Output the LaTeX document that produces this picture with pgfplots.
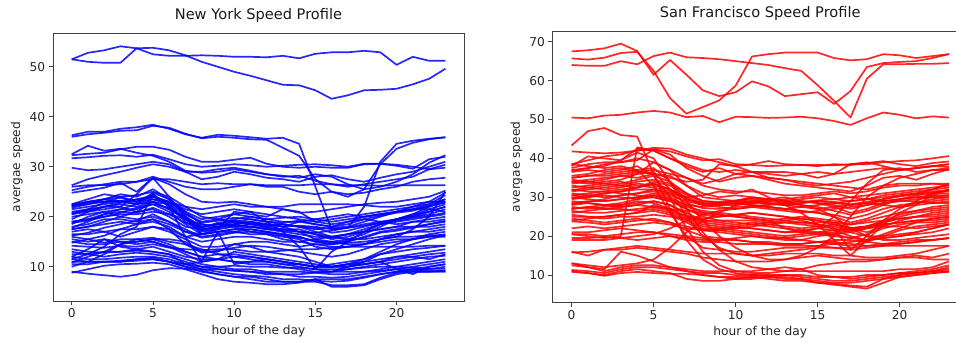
\documentclass[border=0pt]{standalone}
\usepackage{pgfplots}
\usepackage{pgfplotstable}
\pgfplotsset{compat=1.18}
\usepackage{fontspec}
\setmainfont{DejaVu Sans}

% New York: one row per road segment, 24 hourly values (hour 0..23)
\pgfplotstableread[header=false]{
51.5 52.8 53.3 54.1 53.7 52.5 52.2 52.2 52.3 52.2 52.0 52.0 51.9 52.2 51.7 52.6 52.9 52.9 53.2 52.9 50.4 52.0 51.2 51.2
51.5 51.0 50.8 50.8 53.7 53.8 53.3 52.3 51.0 50.0 49.0 48.2 47.3 46.4 46.3 45.3 43.6 44.3 45.3 45.4 45.6 46.5 47.6 49.6
36.3 37.0 37.0 37.6 37.9 38.4 37.6 36.5 35.8 36.4 36.2 35.9 35.6 35.8 34.6 26.0 17.5 17.8 22.0 31.0 34.6 35.2 35.6 35.9
36.0 36.5 36.8 37.2 37.3 38.2 37.8 36.6 35.7 36.0 35.8 35.5 35.4 33.8 32.2 27.5 25.0 24.0 25.5 30.5 33.6 34.8 35.5 35.9
32.5 34.2 33.2 33.6 32.8 32.2 31.0 29.2 28.8 29.0 29.5 29.0 28.5 28.2 27.8 28.5 28.0 26.5 25.5 26.0 27.0 28.5 30.8 32.3
32.3 32.6 32.8 33.5 34.0 34.0 33.4 32.0 31.0 31.0 31.4 31.8 30.6 30.0 29.8 30.0 29.8 29.8 30.5 30.6 30.4 30.0 29.5 29.8
31.7 31.9 32.2 32.3 32.0 32.4 31.5 30.5 30.0 30.2 30.5 30.3 30.0 30.2 30.4 30.5 30.3 30.0 30.6 30.6 30.2 29.6 31.5 32.0
29.8 29.3 29.5 30.0 30.5 31.0 30.5 29.0 27.5 28.0 29.0 28.5 27.8 27.5 27.0 28.0 28.3 27.5 27.0 27.8 28.5 29.0 30.0 31.0
26.3 27.5 28.3 29.0 29.8 30.5 30.0 29.0 29.0 29.5 29.8 29.2 28.5 28.0 28.2 27.2 26.5 26.0 26.5 27.0 27.5 28.0 29.5 30.4
26.0 26.3 26.3 26.5 27.0 27.5 27.5 27.0 26.5 26.7 26.5 26.5 26.3 26.3 26.3 26.5 26.5 26.3 26.3 26.2 26.3 26.3 26.3 26.3
25.3 26.0 26.5 27.0 27.0 28.0 27.0 26.0 25.5 25.5 26.0 26.5 26.0 26.0 25.0 24.5 25.0 24.5 24.8 25.5 26.0 27.0 27.5 27.8
24.8 25.3 25.8 26.8 25.0 27.8 26.5 24.5 23.0 22.8 23.0 22.5 22.0 21.5 20.8 21.0 21.5 22.0 22.5 22.8 23.0 23.5 24.0 25.2
22.5 23.0 23.5 24.0 24.3 25.0 24.0 22.0 20.0 19.5 19.0 19.5 19.0 18.5 18.0 17.5 17.8 18.0 19.0 20.0 21.0 22.0 23.0 24.8
22.2 22.5 23.0 23.8 23.0 24.5 22.0 19.5 18.0 18.5 19.0 18.5 18.0 17.5 17.0 15.5 16.0 16.5 17.5 18.5 19.5 20.5 22.0 23.5
22.0 23.0 23.5 24.5 24.0 25.5 23.5 20.5 19.0 19.5 20.5 20.0 19.5 19.8 20.0 19.5 19.0 19.5 20.0 20.5 21.0 21.5 22.5 24.3
21.5 22.0 22.5 23.0 23.0 24.0 23.0 21.0 18.5 18.0 18.5 19.0 18.5 18.0 18.2 18.0 17.5 17.8 18.5 19.0 19.5 20.0 20.5 21.5
21.0 21.5 22.8 23.2 22.5 23.5 22.5 19.0 17.0 17.5 18.0 18.5 18.0 18.5 18.0 17.0 16.0 15.5 16.5 18.0 19.5 20.0 21.0 22.0
20.5 21.5 22.0 22.5 22.0 23.0 21.5 19.5 17.5 18.0 19.0 18.5 18.5 18.0 17.0 16.5 15.5 16.0 17.0 18.5 19.0 19.5 20.0 20.5
20.0 20.5 21.0 21.5 21.5 22.5 21.0 18.5 16.5 17.0 17.5 18.0 17.5 17.0 16.5 16.0 15.8 16.5 17.0 17.5 18.0 19.0 19.5 20.0
19.5 21.0 22.0 22.0 21.0 21.5 20.0 18.0 17.5 18.0 18.5 19.0 18.5 18.0 19.0 18.5 18.0 19.0 19.5 19.0 18.5 19.0 19.0 19.5
19.0 19.5 20.0 20.5 20.5 21.0 20.5 19.5 18.5 18.0 18.5 18.0 17.5 17.5 17.5 16.5 16.0 16.5 17.0 17.5 18.0 18.0 18.5 19.0
18.5 20.0 21.0 20.0 19.5 20.0 19.0 17.5 16.0 16.5 17.0 17.5 17.0 16.5 16.0 15.0 14.5 15.0 16.0 17.0 17.5 18.0 18.0 18.5
18.0 18.5 19.5 19.5 19.0 19.5 18.5 17.0 16.5 17.0 17.0 16.5 16.5 16.0 15.5 14.0 13.5 14.0 14.5 15.5 16.5 17.0 17.5 18.0
17.5 18.0 18.5 19.0 18.5 19.0 18.0 16.0 15.0 15.5 16.0 16.0 15.5 15.0 15.0 15.5 15.0 15.5 15.5 16.0 16.5 17.0 17.0 17.5
17.0 17.5 17.0 17.5 17.5 18.0 17.0 15.5 14.0 14.0 14.5 15.0 15.0 14.5 14.0 14.5 14.5 14.8 15.0 15.5 16.0 16.0 16.3 16.3
16.5 16.5 17.0 16.0 17.0 18.0 17.5 16.0 16.5 17.0 17.5 17.5 17.0 16.5 16.0 15.0 15.0 14.5 14.5 15.0 15.5 15.5 16.0 16.0
16.0 15.5 14.8 15.5 15.5 15.0 14.0 12.5 11.0 11.5 12.0 12.0 11.5 11.0 10.5 10.0 10.5 11.0 11.5 12.5 13.0 13.5 13.8 14.2
15.5 15.0 15.5 15.0 14.5 15.0 14.0 13.0 12.0 12.5 12.5 12.0 11.5 11.0 10.5 10.0 10.0 10.0 10.5 11.0 11.5 12.0 12.5 12.8
15.0 14.5 14.5 15.0 15.0 15.5 14.5 13.0 12.0 11.5 11.0 10.5 10.5 10.0 9.5 9.0 9.0 9.5 10.0 10.5 11.0 11.5 12.0 12.2
14.2 14.0 13.8 14.2 14.0 14.5 13.8 13.5 13.3 13.5 13.5 13.0 13.0 13.2 13.5 13.5 13.8 14.0 14.0 14.0 14.0 14.0 14.2 14.2
13.5 13.0 12.8 13.0 13.2 13.0 12.5 11.5 10.5 10.0 9.5 9.5 9.0 9.0 9.0 8.8 8.5 8.5 9.0 9.5 10.0 10.5 11.0 11.5
12.5 12.5 12.0 12.5 12.8 12.5 12.0 11.0 10.0 9.5 9.2 9.0 8.5 8.5 8.0 8.0 7.8 8.0 8.5 9.0 9.5 10.0 10.5 11.0
12.0 11.5 11.5 11.8 12.0 12.0 11.5 10.5 9.5 9.0 8.5 8.2 8.0 7.5 7.5 7.2 7.0 7.2 7.8 8.5 9.0 9.5 10.0 10.5
11.5 11.0 11.0 11.2 11.5 11.8 11.0 10.0 9.0 8.5 8.0 7.5 7.0 7.0 7.0 7.5 7.5 7.5 8.0 8.5 9.0 9.3 9.5 10.0
11.0 11.0 11.0 11.0 11.2 11.5 11.0 10.5 10.0 10.0 10.2 10.0 10.0 9.8 9.8 9.5 9.5 9.5 9.8 10.0 10.0 9.8 9.6 9.6
10.5 10.5 11.0 11.0 11.5 11.5 11.0 10.0 9.5 9.5 9.2 9.0 8.8 8.5 8.5 8.8 9.0 9.0 9.0 9.2 9.5 9.5 9.2 9.2
9.0 8.6 8.3 8.0 8.4 9.3 9.7 9.6 9.2 8.5 8.0 8.0 7.5 7.0 7.0 7.0 6.3 6.3 6.5 7.8 8.8 9.0 9.0 9.0
8.8 9.5 10.2 10.5 10.6 10.8 10.5 9.5 8.5 7.5 7.0 6.8 6.5 6.5 6.8 7.5 6.0 6.0 6.3 7.5 8.5 9.0 9.0 9.2
11.5 12.5 14.0 16.5 18.0 24.5 22.0 16.0 11.0 11.5 13.0 12.5 12.0 11.5 11.0 10.5 10.0 10.5 11.0 11.5 12.0 12.5 13.0 13.5
20.5 21.0 21.5 22.0 24.5 27.8 24.0 20.0 16.5 17.5 21.0 20.5 20.0 21.5 21.0 19.0 18.5 19.0 20.0 20.5 21.0 21.5 22.0 23.0
12.0 13.5 15.5 14.0 13.5 13.0 12.5 10.5 11.0 17.0 10.5 11.0 11.5 11.0 10.5 10.0 10.0 10.5 10.5 11.0 12.0 12.0 11.5 12.5
10.8 12.0 13.0 14.5 15.0 15.5 15.5 15.0 13.0 13.0 14.5 14.0 13.0 12.5 12.0 11.0 10.0 10.5 11.5 13.0 14.5 15.5 16.5 17.0
10.0 11.0 12.5 14.5 15.5 15.8 15.0 14.5 13.5 12.5 12.0 11.5 11.0 10.5 10.0 9.5 9.0 10.0 11.0 12.5 13.5 14.5 15.5 16.3
22.3 22.8 23.0 23.2 23.4 24.0 23.0 21.5 20.5 21.0 21.5 21.0 19.0 17.0 14.0 9.5 13.0 15.0 17.0 18.5 19.5 20.5 21.0 22.0
13.0 12.5 13.0 13.0 13.5 14.0 13.0 12.0 11.5 11.5 11.0 11.0 11.0 10.5 10.5 10.0 10.0 10.0 10.5 11.0 9.5 8.5 10.0 10.5
17.5 18.0 19.0 20.0 21.0 23.0 21.5 20.0 18.0 18.5 18.0 17.0 16.5 15.5 15.0 14.5 14.0 14.0 14.5 15.5 16.0 17.5 20.0 25.0
22.5 23.5 24.5 24.0 23.0 23.5 23.0 22.0 21.5 22.0 22.5 22.0 22.0 22.0 22.5 22.5 22.5 22.5 22.3 22.0 22.0 22.5 23.0 23.0
19.0 19.5 20.5 21.5 22.5 23.0 22.5 20.0 18.0 18.5 19.5 20.0 19.5 19.0 19.0 19.5 20.0 20.5 20.0 20.5 21.0 21.5 21.5 21.0
21.8 22.5 23.5 23.0 22.5 24.8 23.5 21.0 19.5 20.0 20.5 21.0 20.5 20.0 19.5 19.0 19.5 20.0 20.5 21.0 21.5 22.0 22.5 23.5
20.8 21.2 22.0 22.8 23.5 24.2 22.8 20.5 18.8 19.2 19.8 19.5 19.0 18.8 19.2 18.5 18.0 18.5 19.5 20.2 20.8 21.2 22.2 22.8
18.8 19.2 20.0 20.8 21.8 22.5 21.8 19.5 17.2 17.8 18.2 18.0 17.8 17.2 17.0 16.8 17.2 17.8 18.2 18.8 19.2 19.8 20.2 20.8
17.8 19.0 20.5 21.0 20.8 21.8 20.5 18.8 17.8 18.8 19.2 18.8 18.2 18.5 18.0 17.8 16.8 17.2 18.0 18.8 19.5 20.2 21.5 22.5
16.2 16.8 17.8 18.5 19.2 20.5 19.0 17.0 15.8 16.2 16.8 17.0 16.8 16.2 15.8 15.2 14.8 15.2 15.8 16.8 17.2 17.8 18.5 19.2
14.8 15.5 16.2 17.5 18.5 19.5 17.5 14.5 12.8 13.2 13.8 14.2 14.0 13.5 13.0 12.5 12.0 12.5 13.5 14.5 15.0 15.5 16.0 16.5
}\nyraw
\pgfplotstabletranspose{\nydata}{\nyraw}

% San Francisco
\pgfplotstableread[header=false]{
67.5 67.8 68.3 69.5 67.6 61.5 65.3 61.5 57.5 56.0 57.0 59.8 58.5 56.0 56.5 57.0 54.0 57.3 63.5 64.5 64.8 65.0 65.8 66.8
64.0 63.8 63.8 65.0 64.2 66.3 67.2 66.0 65.8 65.5 65.0 64.5 64.0 63.2 62.5 58.8 54.8 50.5 60.5 64.2 64.2 64.3 64.3 64.5
65.7 65.4 65.9 67.1 67.4 62.5 55.5 51.5 53.2 54.9 58.7 66.2 66.8 67.2 67.2 67.2 65.8 65.2 65.5 66.8 66.5 65.8 66.3 66.8
50.5 50.3 51.0 51.2 51.8 52.2 51.8 50.6 50.9 49.3 50.7 50.6 50.4 50.5 50.7 50.3 49.6 48.6 50.3 51.8 51.2 50.3 50.8 50.5
43.3 47.0 47.8 46.0 45.6 36.0 27.0 19.0 14.0 11.5 10.5 10.0 9.8 10.0 9.5 9.0 8.5 8.5 9.0 9.5 10.0 10.5 11.0 11.5
20.5 20.0 19.5 20.0 42.8 42.0 40.0 38.5 37.0 36.5 37.0 36.5 36.0 35.5 36.0 36.5 36.0 36.5 37.0 37.5 37.0 37.5 38.0 38.5
41.8 41.5 41.3 41.5 42.0 42.3 41.8 40.5 39.5 39.8 38.5 38.3 38.0 38.2 38.3 38.3 38.2 38.5 38.5 39.0 39.3 39.5 40.0 40.6
38.5 39.5 40.5 41.0 42.0 42.7 42.5 41.0 40.0 39.0 38.0 38.5 39.3 38.5 38.3 38.0 38.5 38.3 38.8 39.3 38.5 38.0 38.8 39.2
38.0 40.5 40.0 39.5 42.5 42.0 40.0 38.0 36.5 37.5 36.0 36.5 36.5 36.5 36.0 35.0 36.0 38.5 39.0 38.0 37.0 37.5 38.0 38.5
37.5 38.5 39.0 39.0 39.5 42.3 41.0 37.5 35.5 34.0 35.0 35.5 35.0 34.5 33.5 33.0 33.5 34.0 35.0 36.0 37.0 37.5 38.0 37.8
36.8 37.5 38.5 39.0 40.0 39.0 37.0 35.0 33.5 34.5 36.0 35.5 34.5 33.5 33.0 32.5 32.0 31.5 33.0 35.0 35.5 34.5 36.0 37.2
35.5 36.0 37.0 37.5 36.5 36.0 35.0 34.0 34.5 38.5 38.0 36.5 35.0 34.5 34.0 33.5 33.0 32.5 32.0 33.0 33.5 33.5 33.5 33.5
35.0 35.5 35.5 36.0 36.5 37.0 36.0 35.0 33.0 32.0 31.5 31.5 31.0 30.5 30.5 31.0 31.5 31.0 31.5 32.5 33.0 33.0 33.5 33.0
34.5 34.0 34.5 35.5 35.0 36.0 35.5 33.0 31.0 30.0 30.5 30.0 29.5 29.0 29.5 30.0 29.5 29.0 29.5 30.5 31.0 31.5 32.0 32.5
34.0 33.5 34.0 34.5 36.0 39.0 37.0 33.0 30.0 29.5 29.0 30.0 29.5 30.0 29.0 28.5 28.0 27.0 28.0 29.5 30.5 31.0 31.5 31.8
33.5 34.0 33.5 33.0 34.0 34.5 33.5 31.0 29.0 28.5 29.0 29.5 29.0 28.5 28.0 27.5 26.5 25.5 26.5 28.0 29.5 30.5 31.0 31.0
33.0 32.5 32.0 32.5 33.5 33.0 32.0 30.0 28.5 28.0 28.5 29.0 28.5 28.0 28.5 29.0 28.5 28.0 28.5 29.0 29.5 30.0 30.5 30.5
32.5 33.0 33.5 34.0 33.0 32.5 31.5 29.5 28.5 28.0 28.0 28.5 29.0 29.5 30.0 30.5 31.0 30.0 29.5 29.0 29.5 30.0 30.0 30.0
32.0 31.5 31.5 32.0 32.5 34.0 33.0 30.5 29.0 28.5 28.5 28.0 27.5 27.0 26.5 26.0 25.5 24.5 25.5 27.0 28.0 28.5 29.0 29.5
31.5 32.0 32.5 33.0 32.5 33.5 32.0 29.5 28.0 27.5 27.0 27.5 28.0 28.5 29.0 28.5 27.5 26.0 27.0 28.5 29.0 29.0 28.5 29.0
31.0 30.5 30.0 30.5 31.0 31.5 30.5 29.0 28.0 28.5 29.0 29.0 28.5 28.0 27.5 27.0 27.5 28.0 28.5 28.0 27.5 28.0 28.5 28.5
30.5 31.0 31.5 31.0 30.5 30.0 29.0 27.5 26.5 26.0 25.5 25.0 24.5 24.0 23.5 23.0 22.5 21.5 22.5 24.0 25.5 26.5 27.5 28.0
30.0 29.5 29.0 29.5 30.0 31.0 30.0 28.0 26.0 25.5 25.0 24.5 24.0 24.5 25.0 24.5 24.0 23.0 24.0 25.0 26.0 26.5 27.0 27.5
29.5 30.0 30.5 30.0 29.5 30.5 29.5 27.0 25.0 24.0 23.5 23.0 23.5 24.0 24.5 24.0 23.0 22.0 22.5 23.5 25.0 26.0 26.5 27.0
29.0 28.5 28.0 28.5 29.5 30.0 29.0 27.0 25.5 25.0 25.5 26.0 25.5 25.0 24.5 24.0 23.5 22.0 21.0 22.5 24.0 25.0 26.0 26.5
28.5 29.0 29.0 29.5 30.0 30.5 29.5 28.0 27.5 28.0 28.5 28.0 27.5 27.0 27.5 28.0 28.5 29.0 29.5 30.0 30.5 31.0 32.0 33.5
28.0 28.5 28.0 27.5 28.0 29.0 28.0 26.0 24.0 23.5 23.0 23.5 23.0 22.5 22.0 22.5 23.0 22.0 22.5 23.5 24.5 25.0 25.0 25.5
27.5 27.0 27.5 28.0 28.5 29.0 28.0 25.5 23.5 23.0 22.5 22.0 21.5 21.0 21.5 22.0 21.5 20.0 19.0 20.5 22.0 23.5 24.5 25.0
27.0 27.5 28.0 28.0 29.0 28.5 27.0 25.0 23.0 22.5 22.0 22.5 23.0 23.5 23.0 22.5 22.0 21.0 22.0 23.0 23.5 24.0 24.0 24.5
26.5 26.0 26.0 26.5 27.0 27.5 26.5 24.5 22.5 22.0 21.5 21.0 20.5 20.0 20.5 21.0 20.5 19.5 20.5 22.0 23.0 23.5 23.5 24.0
26.0 26.5 27.0 27.0 26.5 27.0 26.0 24.0 22.0 21.5 21.0 20.5 20.0 19.5 19.0 18.5 18.0 17.5 18.5 20.0 21.5 22.5 23.0 23.5
25.5 25.0 25.0 25.5 26.0 26.5 25.5 23.5 21.5 21.0 20.5 20.0 19.5 19.5 20.0 20.5 21.0 21.5 22.0 22.5 22.5 22.0 22.5 23.0
25.0 25.0 24.5 25.0 25.0 25.5 25.0 24.5 24.0 24.0 24.0 24.0 23.5 23.5 23.5 23.5 23.5 23.0 23.5 24.0 24.5 25.0 25.5 26.0
24.5 24.0 23.5 24.0 24.5 24.0 23.5 22.5 21.5 21.5 22.0 22.0 21.5 21.0 21.0 20.5 20.0 19.5 19.0 19.5 20.0 20.5 21.0 22.0
24.0 24.5 25.0 25.5 26.0 28.0 27.0 25.0 24.5 25.0 25.5 26.0 25.5 25.0 24.0 23.0 22.0 16.5 20.0 24.0 27.0 29.0 31.0 32.0
23.8 23.5 23.0 23.5 24.0 24.5 23.5 21.5 20.0 19.5 19.0 18.5 18.5 18.0 18.0 18.5 19.0 19.0 18.5 18.0 18.0 18.5 19.0 19.5
21.0 21.0 21.5 22.0 21.5 21.0 20.5 20.0 19.5 19.0 19.0 18.5 18.0 17.5 17.5 17.5 17.0 17.0 17.5 17.5 17.5 17.5 17.5 17.5
20.5 20.5 20.0 20.5 21.0 21.0 20.0 19.0 18.5 18.5 18.0 18.0 18.0 18.0 18.0 18.5 18.5 18.0 17.5 18.0 18.5 19.0 19.0 19.5
19.5 19.5 19.8 19.5 19.0 19.5 20.0 19.5 19.0 19.0 19.5 20.0 19.5 19.0 19.0 20.0 20.5 21.0 20.0 20.0 20.5 21.0 22.0 23.0
19.0 19.0 19.0 19.5 20.0 20.5 22.0 24.0 25.5 26.5 27.0 27.5 27.0 26.5 26.0 26.5 27.0 27.5 28.0 28.5 29.0 29.5 30.0 30.5
16.0 15.0 16.5 17.0 17.5 17.0 16.5 16.0 15.5 15.5 15.5 15.0 15.0 15.5 15.5 15.5 15.0 15.0 14.5 14.5 15.0 15.5 16.5 17.5
15.8 16.0 16.5 16.5 17.0 16.5 16.0 15.5 14.5 14.0 13.5 13.5 13.5 14.0 14.5 15.0 14.5 14.0 14.0 14.0 14.5 14.5 14.0 14.0
13.0 12.5 12.0 12.5 13.0 14.0 17.0 21.0 24.0 26.0 28.0 29.0 29.5 29.0 28.0 27.0 25.0 22.0 20.0 19.0 19.0 19.5 20.0 20.5
12.5 12.0 11.5 16.0 15.0 13.5 12.0 11.0 10.0 9.5 9.5 9.5 9.5 9.0 9.0 8.5 8.0 8.0 8.5 9.0 9.5 10.0 10.5 11.0
11.3 11.0 10.5 11.5 12.0 12.0 11.5 11.0 10.5 10.5 10.0 10.0 10.0 10.0 10.0 9.5 9.5 9.5 10.0 10.0 10.5 10.5 11.0 11.0
11.0 10.5 9.8 10.5 10.8 10.5 10.3 10.3 10.0 9.5 9.0 9.0 9.5 9.5 9.0 8.0 7.8 7.3 7.0 9.0 10.0 10.5 11.0 12.0
10.8 10.5 10.0 11.0 11.5 11.0 10.5 9.0 8.5 8.5 9.0 9.5 9.0 8.5 8.5 8.0 7.5 7.0 6.5 8.0 9.5 10.0 10.5 10.8
13.0 12.0 11.0 12.0 12.5 12.5 12.0 11.5 11.0 11.0 11.0 10.5 10.5 11.0 11.0 11.0 11.0 11.0 11.0 11.0 11.5 11.5 12.0 13.5
35.0 35.5 36.0 36.5 37.0 37.5 34.0 29.0 24.0 20.0 17.0 15.0 14.0 14.0 15.0 17.0 20.0 25.0 30.0 33.0 35.0 36.0 37.0 37.0
36.5 37.0 36.5 37.0 38.0 35.5 30.0 22.0 16.0 12.5 11.0 11.0 11.5 12.0 11.5 10.0 9.5 9.0 9.5 10.0 10.5 11.0 11.5 12.5
38.5 38.0 37.5 38.0 37.0 33.0 26.0 20.0 17.0 16.5 16.0 16.0 16.5 17.0 17.0 17.5 18.0 18.5 19.0 19.5 20.0 21.0 22.0 23.0
27.0 27.5 27.0 27.5 28.0 27.5 27.0 26.5 26.0 25.5 25.0 24.5 24.0 22.0 21.0 22.0 25.0 29.0 33.5 37.0 37.5 36.5 37.0 37.5
30.5 30.0 31.0 31.5 32.0 32.0 31.0 30.0 30.5 31.5 31.0 32.0 30.0 28.0 26.0 23.0 19.0 15.0 19.0 23.0 26.0 28.0 30.5 32.0
31.8 32.5 33.0 33.5 34.5 35.5 34.0 31.0 29.0 28.8 29.2 29.8 29.5 29.0 28.8 29.2 29.5 30.0 30.5 31.0 31.5 32.0 32.5 33.0
29.8 30.5 31.0 31.5 32.5 33.5 32.0 29.5 28.2 28.5 28.8 28.5 28.2 28.0 28.5 29.0 28.8 28.2 28.8 29.5 30.2 30.8 31.2 31.5
28.2 28.8 29.5 30.5 31.0 32.0 31.0 28.5 27.2 27.0 27.5 27.8 27.5 27.0 26.5 26.0 25.0 23.5 24.5 26.0 27.5 28.5 29.5 30.0
37.0 37.5 38.0 39.5 41.5 40.0 34.0 27.0 21.0 16.5 13.5 12.0 11.5 11.0 11.5 12.5 13.0 13.5 13.5 14.0 14.5 15.0 14.5 15.5
34.0 34.5 35.0 35.5 36.0 36.5 32.0 25.0 20.0 17.0 15.5 15.0 15.5 16.0 16.5 17.0 17.0 16.5 17.0 17.5 18.0 18.5 19.0 19.5
22.0 22.5 22.0 22.5 23.0 23.5 23.0 22.0 21.5 22.0 22.5 23.0 22.5 22.0 21.5 21.0 21.5 22.0 22.5 23.0 23.5 24.0 24.5 25.0
}\sfraw
\pgfplotstabletranspose{\sfdata}{\sfraw}

\pgfplotsset{
  speedaxis/.style={
    scale only axis,
    anchor=north west,
    xmin=-1.15, xmax=24.15,
    xtick={0,5,10,15,20},
    tick pos=left,
    tick align=outside,
    major tick length=4.3pt,
    axis line style={black!75, line width=0.8pt},
    tick style={black!75, line width=0.8pt},
    ticklabel style={font=\fontsize{12.2}{14}\selectfont, color=black!85},
    /pgf/number format/assume math mode=true,
    label style={font=\fontsize{12.2}{14}\selectfont, color=black!85},
    title style={font=\fontsize{14.6}{17}\selectfont, color=black!90,
                 at={(0.5,1)}, anchor=south, inner sep=0pt, yshift=4.5pt},
    xlabel={hour of the day},
    ylabel={avergae speed},
    scaled ticks=false,
    clip=true,
  },
  nyl/.style={blue, opacity=0.85, line width=1.7pt, line join=round, mark=none},
  sfl/.style={red, opacity=0.85, line width=1.7pt, line join=round, mark=none},
}

\begin{document}
\begin{tikzpicture}
\begin{axis}[speedaxis,
  at={(53pt,-33.3pt)}, width=411pt, height=267.7pt,
  ymin=3.14, ymax=56.7, ytick={10,20,30,40,50},
  title={New York Speed Profile}]
\pgfplotsinvokeforeach{1,...,54}{\addplot[nyl] table[x index=0, y index=#1] {\nydata};}
\end{axis}
\begin{axis}[speedaxis,
  at={(552.7pt,-31pt)}, width=415.1pt, height=271.7pt,
  ymin=2.88, ymax=72.75, ytick={10,20,30,40,50,60,70},
  title={San Francisco Speed Profile}]
\pgfplotsinvokeforeach{1,...,59}{\addplot[sfl] table[x index=0, y index=#1] {\sfdata};}
\end{axis}
\pgfresetboundingbox
\useasboundingbox (0pt,0pt) rectangle (956pt,-341pt);
\end{tikzpicture}
\end{document}
